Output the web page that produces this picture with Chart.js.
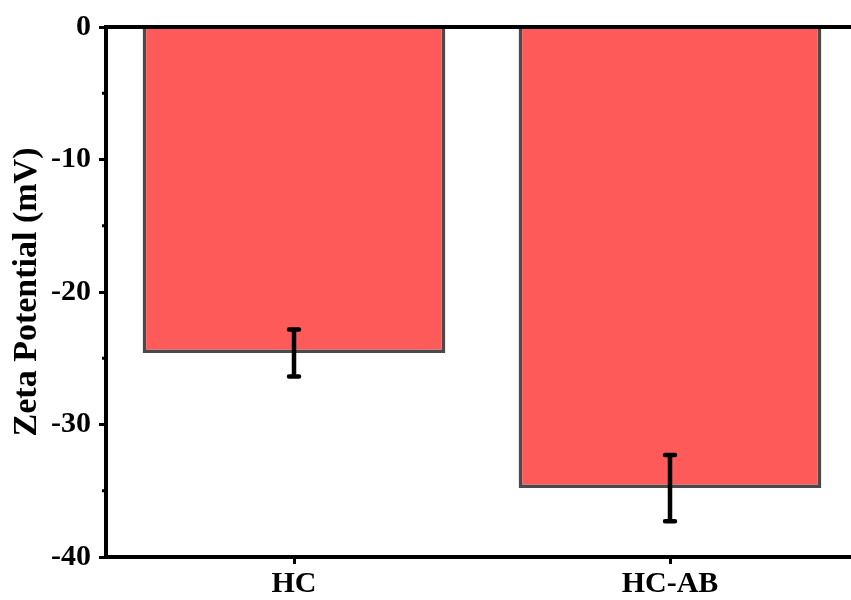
<!DOCTYPE html>
<html>
<head>
<meta charset="utf-8">
<script src="https://cdn.jsdelivr.net/npm/chart.js@4"></script>
<style>
  html, body { margin: 0; padding: 0; background: #fff; overflow: hidden; }
  #wrap { width: 866px; height: 600px; }
</style>
</head>
<body>
<div id="wrap"><canvas id="chart" width="866" height="600"></canvas></div>
<script>
// datos del gráfico
const categorias = ['HC', 'HC-AB'];
const zeta = [-24.6, -34.8];
const errores = [1.77, 2.5];
const ticksMayores = [0, -10, -20, -30, -40];
const ticksMenores = [-5, -15, -25, -35];

const fuente = "'Liberation Serif', 'Times New Roman', serif";

// barras de error, línea superior del marco y ticks menores
const extras = {
  id: 'extras',
  afterDatasetsDraw(chart) {
    const ctx = chart.ctx;
    const x = chart.scales.x;
    const y = chart.scales.y;
    const area = chart.chartArea;

    ctx.save();
    ctx.strokeStyle = '#000';
    ctx.lineCap = 'round';
    ctx.lineWidth = 4.5;
    zeta.forEach((v, i) => {
      const cx = x.getPixelForValue(i);
      const y1 = y.getPixelForValue(v + errores[i]);
      const y2 = y.getPixelForValue(v - errores[i]);
      ctx.beginPath();
      ctx.moveTo(cx, y1); ctx.lineTo(cx, y2);
      ctx.moveTo(cx - 5, y1); ctx.lineTo(cx + 5, y1);
      ctx.moveTo(cx - 5, y2); ctx.lineTo(cx + 5, y2);
      ctx.stroke();
    });

    ctx.lineCap = 'butt';
    ctx.lineWidth = 4;
    ctx.beginPath();
    ctx.moveTo(area.left - 2, area.top);
    ctx.lineTo(area.right, area.top);
    ctx.stroke();

    ctx.lineWidth = 3;
    ticksMenores.forEach(t => {
      const py = y.getPixelForValue(t);
      ctx.beginPath();
      ctx.moveTo(area.left, py);
      ctx.lineTo(area.left - 4, py);
      ctx.stroke();
    });
    ctx.restore();
  }
};

new Chart(document.getElementById('chart'), {
  type: 'bar',
  data: {
    labels: categorias,
    datasets: [{
      data: zeta,
      backgroundColor: '#ff5a5a',
      borderColor: '#4a4a4a',
      borderWidth: 3.5,
      barPercentage: 0.805,
      categoryPercentage: 1.0
    }]
  },
  options: {
    responsive: false,
    animation: false,
    layout: { padding: { top: 27, right: 8, left: 0, bottom: 0 } },
    plugins: {
      legend: { display: false },
      tooltip: { enabled: false }
    },
    scales: {
      x: {
        grid: { offset: false, drawOnChartArea: false, drawTicks: true, tickLength: 7, color: '#000', lineWidth: 3 },
        border: { display: true, color: '#000', width: 4 },
        ticks: { color: '#000', font: { family: fuente, size: 30, weight: 'bold' }, padding: 2 },
        afterFit: s => { s.height = 43; }
      },
      y: {
        min: -40,
        max: 0,
        afterBuildTicks: s => { s.ticks = ticksMayores.map(v => ({ value: v })); },
        grid: { drawOnChartArea: false, drawTicks: true, tickLength: 7, color: '#000', lineWidth: 3 },
        border: { display: true, color: '#000', width: 4 },
        ticks: { color: '#000', font: { family: fuente, size: 30, weight: 'bold' }, padding: 8 },
        title: {
          display: true,
          text: 'Zeta Potential (mV)',
          color: '#000',
          font: { family: fuente, size: 34, weight: 'bold' },
          padding: { top: 7, bottom: 0 }
        },
        afterFit: s => { s.width = 106; }
      }
    }
  },
  plugins: [extras]
});
</script>
</body>
</html>
